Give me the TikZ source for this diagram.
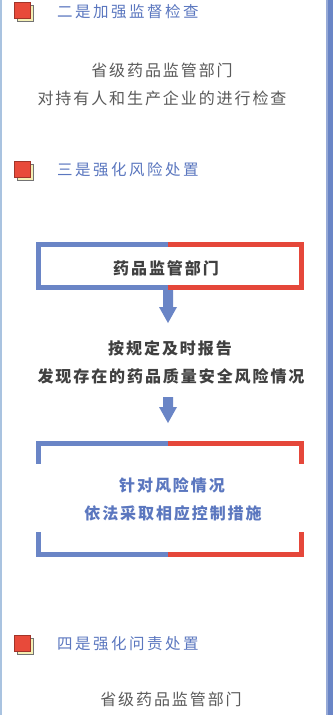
\documentclass[tikz,border=0pt]{standalone}
\usepackage{fontspec}
\usetikzlibrary{calc}
\newfontfamily\cjk[LetterSpace=12]{Noto Sans CJK SC}
\newfontfamily\cjkh[LetterSpace=16]{Noto Sans CJK SC}
\definecolor{hblue}{HTML}{5B77BF}
\definecolor{bblue}{HTML}{6A85C6}
\definecolor{bred}{HTML}{E5473A}
\definecolor{tgray}{HTML}{5A5A5A}
\definecolor{tdark}{HTML}{404040}
\definecolor{lborder}{HTML}{A9C3E0}
\definecolor{iconred}{HTML}{E84A3A}
\definecolor{iconyel}{HTML}{F4EFB4}
\tikzset{
  header/.style={anchor=west, inner sep=0pt, text=hblue, font=\cjkh\fontsize{15.5}{18}\selectfont},
  body/.style={inner sep=0pt, text=tgray, font=\cjk\fontsize{16}{19}\selectfont},
  boxtext/.style={inner sep=0pt, text=tdark, font=\cjk\bfseries\fontsize{16}{19}\selectfont},
  bluetext/.style={inner sep=0pt, text=hblue, font=\cjk\bfseries\fontsize{16}{19}\selectfont},
  frameb/.style={draw=bblue, line width=5pt},
  framer/.style={draw=bred, line width=5pt},
  fatarrow/.style={fill=bblue, draw=none},
}
\newcommand{\sectionicon}[2]{%
  \fill[iconyel, draw=black!55, line width=0.5pt] (#1+3,#2+3) rectangle (#1+19,#2+19);
  \fill[iconred, draw=iconred!70!black, line width=0.5pt] (#1,#2) rectangle (#1+16,#2+16);
}
\begin{document}
\begin{tikzpicture}[x=1pt, y=-1pt]
\useasboundingbox (0,0) rectangle (334,715);
\fill[white] (0,0) rectangle (334,715);
% borders
\fill[lborder] (0,0) rectangle (2.2,715);
\fill[bblue!70!white] (325.5,0) rectangle (327.5,715);
\fill[bblue] (327.5,0) rectangle (333,715);

% section 2
\sectionicon{14}{2}
\node[header] (h2) at (57,11.5) {二是加强监督检查};
\node[body] (t2a) at (162,70) {省级药品监管部门};
\node[body] (t2b) at (162,98) {对持有人和生产企业的进行检查};

% section 3
\sectionicon{14}{161}
\node[header] (h3) at (57,170) {三是强化风险处置};

% box 1
\node[boxtext] (b1) at (166,268) {药品监管部门};
\coordinate (b1tl) at (38.5,244.3);
\coordinate (b1br) at (301.5,287.5);
\coordinate (b1mid) at (168,0);
\draw[frameb, line cap=butt, line join=miter] (b1mid |- b1tl) -- (b1tl) -- (b1tl |- b1br) -- (b1mid |- b1br);
\draw[framer, line cap=butt, line join=miter] (b1mid |- b1tl) -- (b1br |- b1tl) -- (b1br) -- (b1mid |- b1br);

% arrow 1
\coordinate (a1) at (168,290);
\fill[fatarrow] ($(a1)+(-5,0)$) -- ($(a1)+(5,0)$) -- ($(a1)+(5,17)$) -- ($(a1)+(9,17)$) -- ($(a1)+(0,33)$) -- ($(a1)+(-9,17)$) -- ($(a1)+(-5,17)$) -- cycle;

\node[boxtext] (t3a) at (170,348) {按规定及时报告};
\node[boxtext] (t3b) at (171,376) {发现存在的药品质量安全风险情况};

% arrow 2
\coordinate (a2) at (168,397);
\fill[fatarrow] ($(a2)+(-5,0)$) -- ($(a2)+(5,0)$) -- ($(a2)+(5,10)$) -- ($(a2)+(9,10)$) -- ($(a2)+(0,26)$) -- ($(a2)+(-9,10)$) -- ($(a2)+(-5,10)$) -- cycle;

% box 2 brackets
\coordinate (b2tl) at (38.5,443.3);
\coordinate (b2br) at (301.5,554.2);
\draw[frameb, line cap=butt, line join=miter] (168,443.3) -- (b2tl) -- (38.5,464);
\draw[framer, line cap=butt, line join=miter] (168,443.3) -- (301.5,443.3) -- (301.5,464);
\draw[frameb, line cap=butt, line join=miter] (168,554.2) -- (38.5,554.2) -- (38.5,532);
\draw[framer, line cap=butt, line join=miter] (168,554.2) -- (b2br) -- (301.5,532);
\node[bluetext] (t4a) at (172,485) {针对风险情况};
\node[bluetext] (t4b) at (173,513) {依法采取相应控制措施};

% section 4
\sectionicon{14}{635}
\node[header] (h4) at (57,644) {四是强化问责处置};
\node[body] (t5) at (171,699) {省级药品监管部门};
\end{tikzpicture}
\end{document}
